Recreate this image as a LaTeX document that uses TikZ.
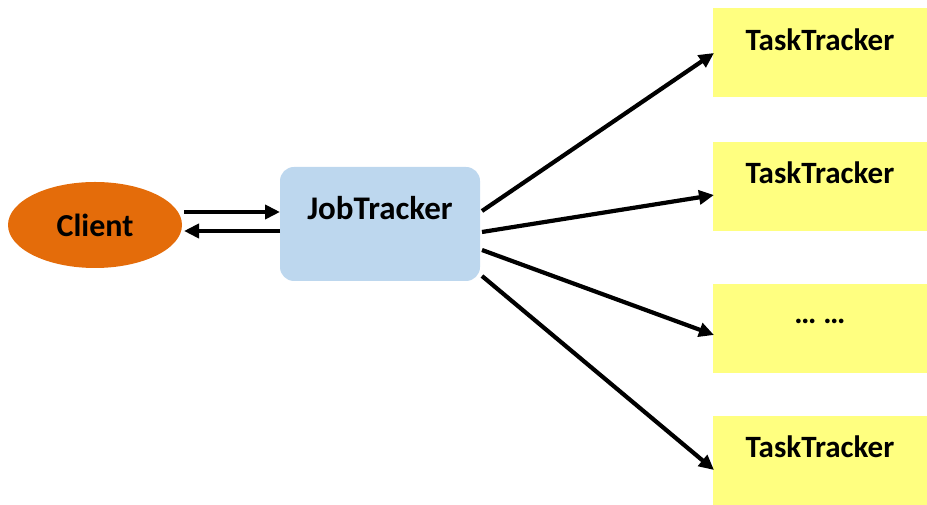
\documentclass[tikz,border=0pt]{standalone}
\usepackage{fontspec}
\setmainfont{Carlito}
\usetikzlibrary{arrows.meta,shapes.geometric}
\definecolor{clientc}{HTML}{E46C0A}
\definecolor{jobc}{HTML}{BDD7EE}
\definecolor{taskc}{HTML}{FFFF80}
\begin{document}
\begin{tikzpicture}[x=1pt,y=1pt,
  lbl/.style={font=\fontsize{31}{36}\selectfont\bfseries, inner sep=0pt},
  taskbox/.style={fill=taskc, draw=none, minimum width=214pt, minimum height=89pt, inner sep=0pt},
  conn/.style={line width=4.2pt, -{Triangle[length=15pt,width=14pt]}}
]
\useasboundingbox (0,0) rectangle (927,505);
% Client
\node[ellipse, fill=clientc, minimum width=174pt, minimum height=86pt, inner sep=0pt] (client) at (95,280) {};
\node[lbl, font=\fontsize{32}{36}\selectfont\bfseries] (clientl) at (95,280) {Client};
% JobTracker
\node[fill=jobc, rounded corners=14pt, minimum width=200pt, minimum height=114pt, inner sep=0pt] (job) at (380,281) {};
\node[lbl, font=\fontsize{33}{36}\selectfont\bfseries] (jobl) at (380,297) {JobTracker};
% TaskTrackers
\node[taskbox] (t1) at (820,452.5) {};
\node[taskbox] (t2) at (820,318.5) {};
\node[taskbox] (t3) at (820,176.5) {};
\node[taskbox] (t4) at (820,44.5) {};
\node[lbl] (t1l) at (820,465) {TaskTracker};
\node[lbl] (t2l) at (820,332) {TaskTracker};
\node[lbl] (t3l) at (820,184) {… …};
\node[lbl] (t4l) at (820,58) {TaskTracker};
% coordinates
\coordinate (ca) at (184,293);
\coordinate (ja) at (280,293);
\coordinate (cb) at (184,274);
\coordinate (jb) at (280,274);
\coordinate (j1) at (482,294);
\coordinate (j2) at (482,273);
\coordinate (j3) at (482,255);
\coordinate (j4) at (482,229);
\coordinate (e1) at (714,452);
\coordinate (e2) at (714,310);
\coordinate (e3) at (714,170);
\coordinate (e4) at (714,35);
\draw[conn] (ca) -- (ja);
\draw[conn] (jb) -- (cb);
\draw[conn] (j1) -- (e1);
\draw[conn] (j2) -- (e2);
\draw[conn] (j3) -- (e3);
\draw[conn] (j4) -- (e4);
\end{tikzpicture}
\end{document}
